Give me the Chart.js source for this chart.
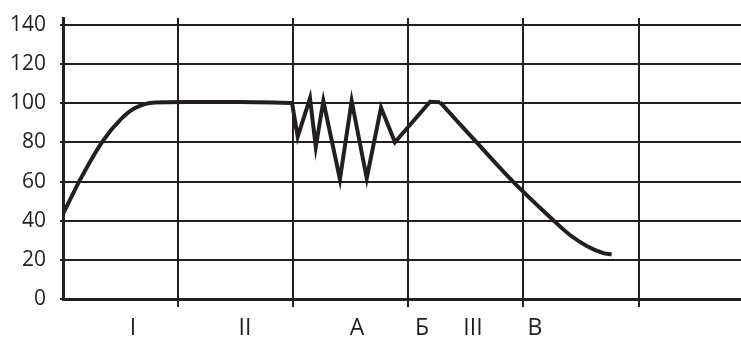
<!DOCTYPE html>
<html>
<head>
<meta charset="utf-8">
<script src="https://cdn.jsdelivr.net/npm/chart.js@4/dist/chart.umd.min.js"></script>
<style>
html,body{margin:0;padding:0;background:#fff;overflow:hidden;}
canvas{display:block;}
</style>
</head>
<body>
<canvas id="c" width="741" height="337"></canvas>
<script>
// Curve, x in grid-interval units, y in the axis units
const riseX = [0, 0.148, 0.35, 0.51, 0.626, 0.8, 1.06, 1.538, 1.99];
const riseY = [43.4, 60.9, 81.1, 92.3, 97.6, 100.4, 100.7, 100.7, 100.2];
const zigX = [1.99, 2.039, 2.146, 2.196, 2.262, 2.406, 2.508, 2.639, 2.763, 2.884, 3.189, 3.275];
const zigY = [100.2, 82.9, 102.6, 77.8, 101.2, 61.2, 101.2, 61.7, 97.8, 80.1, 100.8, 100.6];
const fallX = [3.275, 3.594, 3.91, 4.257, 4.405, 4.55, 4.694, 4.767];
const fallY = [100.6, 80, 60, 40.4, 32.7, 27.1, 23.4, 22.8];

// Axis labels
const yTicks = [0, 20, 40, 60, 80, 100, 120, 140];
const gridX = [0, 1, 2, 3, 4, 5];
const zoneLabels = ['I', 'II', 'А', 'Б', 'III', 'В'];
const zonePositions = [0.608, 1.581, 2.554, 3.119, 3.562, 4.101];

const INK = '#231f20';
const pts = (xs, ys) => xs.map((x, i) => ({x: x, y: ys[i]}));
const isGrid = v => gridX.some(g => Math.abs(g - v) < 1e-9);

new Chart(document.getElementById('c'), {
  type: 'line',
  data: {
    datasets: [
      {data: pts(riseX, riseY), cubicInterpolationMode: 'monotone'},
      {data: pts(zigX, zigY), tension: 0},
      {data: pts(fallX, fallY), tension: 0.35}
    ].map(d => Object.assign({
      borderColor: INK, borderWidth: 4, pointRadius: 0, fill: false,
      borderJoinStyle: 'miter', borderCapStyle: 'butt'
    }, d))
  },
  options: {
    responsive: false,
    animation: false,
    layout: {padding: {top: 18, right: 0, left: 0, bottom: 0}},
    plugins: {legend: {display: false}, tooltip: {enabled: false}},
    scales: {
      x: {
        type: 'linear',
        min: 0,
        max: 678 / 115.1,
        afterBuildTicks: s => {
          s.ticks = gridX.concat(zonePositions).sort((a, b) => a - b).map(v => ({value: v}));
        },
        afterFit: s => { s.height = 38; s.paddingLeft = 0; s.paddingRight = 0; },
        grid: {
          color: c => (c.tick && isGrid(c.tick.value) && c.tick.value !== 0) ? INK : 'rgba(0,0,0,0)',
          tickColor: c => (c.tick && isGrid(c.tick.value) && c.tick.value !== 0) ? INK : 'rgba(0,0,0,0)',
          lineWidth: 2,
          tickWidth: 2,
          tickLength: 8
        },
        border: {display: true, color: INK, width: 3},
        ticks: {
          autoSkip: false,
          maxRotation: 0,
          minRotation: 0,
          padding: 8,
          color: INK,
          font: {family: 'Open Sans', size: 23},
          callback: v => {
            const i = zonePositions.findIndex(p => Math.abs(p - v) < 1e-9);
            return i >= 0 ? zoneLabels[i] : '';
          }
        }
      },
      y: {
        min: 0,
        max: 143.6,
        afterBuildTicks: s => { s.ticks = yTicks.map(v => ({value: v})); },
        afterFit: s => { s.width = 63; s.paddingTop = 0; s.paddingBottom = 0; },
        grid: {color: INK, lineWidth: 2, tickLength: 3, tickColor: INK, tickWidth: 2},
        border: {display: true, color: INK, width: 3},
        ticks: {
          padding: 14,
          color: INK,
          font: {family: 'Open Sans', size: 21}
        }
      }
    }
  }
});
</script>
</body>
</html>
